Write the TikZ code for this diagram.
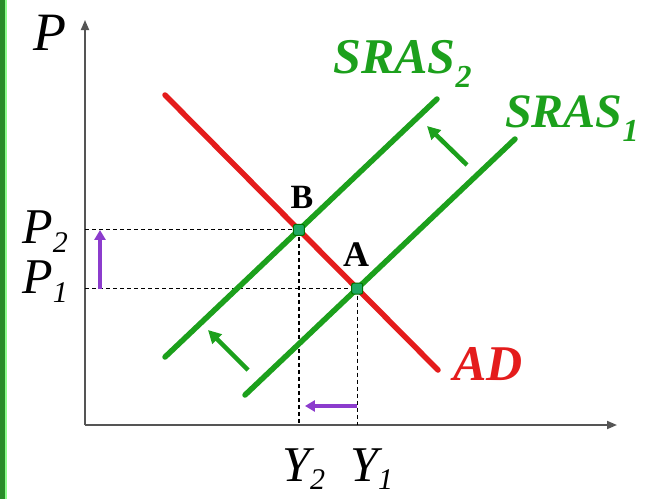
\documentclass[tikz,border=0pt]{standalone}
\usepackage{fontspec}
\setmainfont{Liberation Serif}
\usetikzlibrary{intersections,arrows.meta}
\definecolor{lgreen}{RGB}{28,160,28}
\definecolor{dgreen}{RGB}{40,140,40}
\definecolor{lred}{RGB}{228,28,28}
\definecolor{lpurple}{RGB}{140,60,205}
\definecolor{dotgreen}{RGB}{30,170,100}
\definecolor{axisgray}{RGB}{85,85,85}
\newcommand{\fs}[1]{\fontsize{#1}{#1}\selectfont}
\tikzset{
  curve/.style={line width=5.5pt, line cap=round},
  axisline/.style={line width=1.8pt, draw=axisgray, -{Triangle[length=10pt,width=8pt]}},
  guide/.style={line width=1.1pt, dash pattern=on 4pt off 3pt},
  shiftarrow/.style={line width=4.5pt, draw=lgreen, -{Triangle[length=13pt,width=13pt]}},
  changearrow/.style={line width=3.5pt, draw=lpurple, -{Triangle[length=10pt,width=11pt]}},
  eqdot/.style={rectangle, rounded corners=2pt, fill=dotgreen, draw=black!55!green, line width=1pt, inner sep=0pt, minimum size=11pt},
  lbl/.style={inner sep=0pt},
}
\begin{document}
\begin{tikzpicture}[x=1pt,y=-1pt]
\useasboundingbox (0,0) rectangle (648,499);
\fill[white] (0,0) rectangle (648,499);
% left border
\fill[dgreen] (0,0) rectangle (4.5,499);
\fill[green!45!white] (4.5,0) rectangle (7,499);
% axes
\coordinate (O) at (85,425);
\coordinate (ytop) at (85,20);
\coordinate (xend) at (617,425);
\draw[axisline] (O) -- (ytop);
\draw[axisline] (O) -- (xend);
% curves
\coordinate (ad1) at (165,95);
\coordinate (ad2) at (438,370);
\coordinate (sa1) at (245,395);
\coordinate (sa2) at (515,139);
\coordinate (sb1) at (165,357);
\coordinate (sb2) at (437,99);
\path[name path=ADp] (ad1) -- (ad2);
\path[name path=S1p] (sa1) -- (sa2);
\path[name path=S2p] (sb1) -- (sb2);
\path[name intersections={of=ADp and S1p, by=Apt}];
\path[name intersections={of=ADp and S2p, by=Bpt}];
\coordinate (p1) at (O |- Apt);
\coordinate (p2) at (O |- Bpt);
\coordinate (y1) at (Apt |- O);
\coordinate (y2) at (Bpt |- O);
% guides
\draw[guide] (p2) -- (Bpt);
\draw[guide] (p1) -- (Apt);
\draw[guide] (Bpt) -- (y2);
\draw[guide] (Apt) -- (y1);
\draw[curve, draw=lgreen] (sa1) -- (sa2);
\draw[curve, draw=lgreen] (sb1) -- (sb2);
\draw[curve, draw=lred] (ad1) -- (ad2);
\node[eqdot] (A) at (Apt) {};
\node[eqdot] (B) at (Bpt) {};
% shift arrows
\coordinate (s1t) at (467,165);
\coordinate (s1h) at (427,126);
\coordinate (s2t) at (248,370);
\coordinate (s2h) at (208,330);
\draw[shiftarrow] (s1t) -- (s1h);
\draw[shiftarrow] (s2t) -- (s2h);
% change arrows
\coordinate (pa) at ([xshift=15pt]p1);
\coordinate (pb) at ([xshift=15pt]p2);
\draw[changearrow] (pa) -- (pb);
\coordinate (ya) at ([yshift=19pt]y1);
\coordinate (yb) at ([yshift=19pt,xshift=6pt]y2);
\draw[changearrow] (ya) -- (yb);
% labels
\node[lbl, anchor=base west] (Plab) at (33,50) {\fs{54}\itshape P};
\node[lbl, anchor=base east] (P2lab) at (68,243) {\fs{50}\itshape P\raisebox{-9pt}{\fs{30}2}};
\node[lbl, anchor=base east] (P1lab) at (68,293) {\fs{50}\itshape P\raisebox{-9pt}{\fs{30}1}};
\node[lbl, anchor=base west] (Y2lab) at (282,481) {\fs{50}\itshape Y\raisebox{-8pt}{\fs{30}2}};
\node[lbl, anchor=base west] (Y1lab) at (350,481) {\fs{50}\itshape Y\raisebox{-8pt}{\fs{30}1}};
\node[lbl, anchor=base west, text=lgreen] (S2lab) at (333,73) {\fs{50}\bfseries\itshape SRAS\raisebox{-14pt}{\fs{32}2}};
\node[lbl, anchor=base west, text=lgreen] (S1lab) at (505,127) {\fs{48}\bfseries\itshape SRAS\raisebox{-14pt}{\fs{32}1}};
\node[lbl, anchor=base west, text=lred] (ADlab) at (453,380) {\fs{50}\bfseries\itshape AD};
\node[lbl, anchor=base] (Blab) at (302,208) {\fs{34}\bfseries B};
\node[lbl, anchor=base] (Alab) at (356,266) {\fs{36}\bfseries A};
\end{tikzpicture}
\end{document}
